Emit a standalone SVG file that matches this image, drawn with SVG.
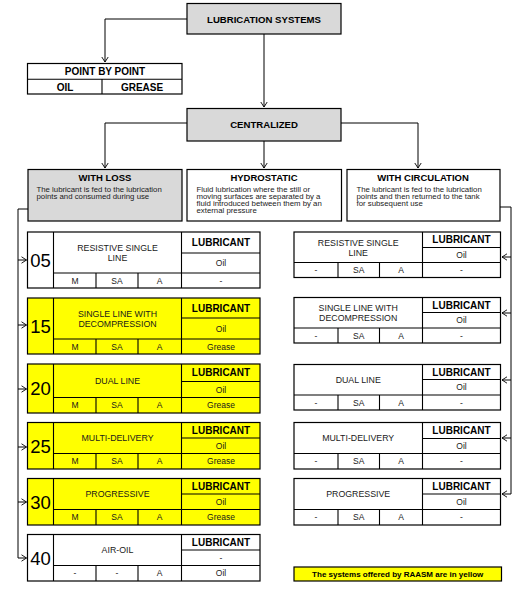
<svg xmlns="http://www.w3.org/2000/svg" width="523" height="598" viewBox="0 0 523 598">
<defs>
<style>
text{font-family:"Liberation Sans",Arial,sans-serif;fill:#1a1a1a}
.b{font-weight:bold;fill:#000}
.c{text-anchor:middle}
.t{font-size:8.8px}
.s{font-size:8.5px}
.lub{font-size:10px;font-weight:bold;fill:#000;text-anchor:middle}
.num{font-size:18.5px;text-anchor:middle;fill:#000}
.d{font-size:7.8px}
.h{font-size:9.5px;font-weight:bold;fill:#000;text-anchor:middle}
.w{fill:#fff;stroke:#000;stroke-width:1.2}
.y{fill:#ffff00;stroke:#000;stroke-width:1.2}
.g{fill:#d9d9d9;stroke:#000;stroke-width:1.2}
.ln{stroke:#000;stroke-width:1.1;fill:none}
.cn{stroke:#000;stroke-width:1;fill:none}
</style>
<marker id="ar" viewBox="0 0 6 8" refX="5.5" refY="4" markerWidth="6" markerHeight="8" markerUnits="userSpaceOnUse" orient="auto">
<path d="M0.5,0.8 L5.5,4 L0.5,7.2" fill="none" stroke="#000" stroke-width="0.9"/>
</marker>
</defs>
<rect width="523" height="598" fill="#fff"/>

<g id="connectors">
<path class="cn" d="M187,19 H105 V62" marker-end="url(#ar)"/>
<path class="cn" d="M264,34 V107" marker-end="url(#ar)"/>
<path class="cn" d="M187,123 H105 V168" marker-end="url(#ar)"/>
<path class="cn" d="M264,141 V168" marker-end="url(#ar)"/>
<path class="cn" d="M341,123 H418 V168" marker-end="url(#ar)"/>
<path class="cn" d="M28,209 H18 V558 H26.5" marker-end="url(#ar)"/>
<path class="cn" d="M18,260 H26.5" marker-end="url(#ar)"/>
<path class="cn" d="M18,325 H26.5" marker-end="url(#ar)"/>
<path class="cn" d="M18,389 H26.5" marker-end="url(#ar)"/>
<path class="cn" d="M18,447 H26.5" marker-end="url(#ar)"/>
<path class="cn" d="M18,502 H26.5" marker-end="url(#ar)"/>
<path class="cn" d="M500,207 H511 V494 H502" marker-end="url(#ar)"/>
<path class="cn" d="M511,257 H502" marker-end="url(#ar)"/>
<path class="cn" d="M511,313 H502" marker-end="url(#ar)"/>
<path class="cn" d="M511,380 H502" marker-end="url(#ar)"/>
<path class="cn" d="M511,438 H502" marker-end="url(#ar)"/>
</g>

<g id="lubrication-systems">
<rect class="g" x="187" y="3.5" width="154" height="30.5"/>
<text class="b c" x="264" y="22.5" font-size="9.6">LUBRICATION SYSTEMS</text>
</g>

<g id="point-by-point">
<rect class="w" x="27.5" y="63.5" width="154.5" height="30.5"/>
<path class="ln" d="M27.5,79.2 H182 M102,79.2 V94"/>
<text class="b c" x="105" y="75" font-size="10">POINT BY POINT</text>
<text class="b c" x="65" y="90.5" font-size="10">OIL</text>
<text class="b c" x="142" y="90.5" font-size="10">GREASE</text>
</g>

<g id="centralized">
<rect class="g" x="187" y="108.5" width="154" height="32.5"/>
<text class="b c" x="264" y="128" font-size="9.6">CENTRALIZED</text>
</g>

<g id="with-loss">
<rect class="g" x="28" y="169.5" width="154" height="51.5"/>
<text class="h" x="105" y="181">WITH LOSS</text>
<text class="d" x="36.5" y="191.8">The lubricant is fed to the lubrication</text>
<text class="d" x="36.5" y="198.8">points and consumed during use</text>
</g>

<g id="hydrostatic">
<rect class="w" x="187" y="169.5" width="154.5" height="51.5"/>
<text class="h" x="264" y="181">HYDROSTATIC</text>
<text class="d" x="196.5" y="191.8">Fluid lubrication where the still or</text>
<text class="d" x="196.5" y="198.8">moving surfaces are separated by a</text>
<text class="d" x="196.5" y="205.8">fluid introduced between them by an</text>
<text class="d" x="196.5" y="212.8">external pressure</text>
</g>

<g id="with-circulation">
<rect class="w" x="347" y="169.5" width="153" height="51.5"/>
<text class="h" x="423" y="181">WITH CIRCULATION</text>
<text class="d" x="356.5" y="191.8">The lubricant is fed to the lubrication</text>
<text class="d" x="356.5" y="198.8">points and then returned to the tank</text>
<text class="d" x="356.5" y="205.8">for subsequent use</text>
</g>

<!-- Left column -->
<g id="l05">
<rect class="w" x="27.5" y="232" width="232.5" height="56"/>
<path class="ln" d="M53.5,232 V288 M181.5,232 V288 M181.5,253 H260 M53.5,273 H260 M96,273 V288 M138,273 V288"/>
<text class="num" x="40.5" y="266.7">05</text>
<text class="t c" x="117.5" y="251">RESISTIVE SINGLE</text>
<text class="t c" x="117.5" y="261">LINE</text>
<text class="lub" x="221" y="246.1">LUBRICANT</text>
<text class="s c" x="221" y="266">Oil</text>
<text class="s c" x="75" y="283.5">M</text>
<text class="s c" x="117" y="283.5">SA</text>
<text class="s c" x="159.7" y="283.5">A</text>
<text class="s c" x="221" y="283.5">-</text>
</g>

<g id="l15">
<rect class="y" x="27.5" y="298" width="232.5" height="56"/>
<path class="ln" d="M53.5,298 V354 M181.5,298 V354 M181.5,318 H260 M53.5,339 H260 M96,339 V354 M138,339 V354"/>
<text class="num" x="40.5" y="332.7">15</text>
<text class="t c" x="117.5" y="317">SINGLE LINE WITH</text>
<text class="t c" x="117.5" y="327">DECOMPRESSION</text>
<text class="lub" x="221" y="311.6">LUBRICANT</text>
<text class="s c" x="221" y="331.5">Oil</text>
<text class="s c" x="75" y="349.5">M</text>
<text class="s c" x="117" y="349.5">SA</text>
<text class="s c" x="159.7" y="349.5">A</text>
<text class="s c" x="221" y="349.5">Grease</text>
</g>

<g id="l20">
<rect class="y" x="27.5" y="364" width="232.5" height="49"/>
<path class="ln" d="M53.5,364 V413 M181.5,364 V413 M181.5,381.5 H260 M53.5,397.5 H260 M96,397.5 V413 M138,397.5 V413"/>
<text class="num" x="40.5" y="395.2">20</text>
<text class="t c" x="117.5" y="384">DUAL LINE</text>
<text class="lub" x="221" y="376.4">LUBRICANT</text>
<text class="s c" x="221" y="392.5">Oil</text>
<text class="s c" x="75" y="408.3">M</text>
<text class="s c" x="117" y="408.3">SA</text>
<text class="s c" x="159.7" y="408.3">A</text>
<text class="s c" x="221" y="408.3">Grease</text>
</g>

<g id="l25">
<rect class="y" x="27.5" y="422.5" width="232.5" height="46.5"/>
<path class="ln" d="M53.5,422.5 V469 M181.5,422.5 V469 M181.5,438 H260 M53.5,453.5 H260 M96,453.5 V469 M138,453.5 V469"/>
<text class="num" x="40.5" y="452.5">25</text>
<text class="t c" x="117.5" y="441.3">MULTI-DELIVERY</text>
<text class="lub" x="221" y="433.9">LUBRICANT</text>
<text class="s c" x="221" y="448.7">Oil</text>
<text class="s c" x="75" y="464.3">M</text>
<text class="s c" x="117" y="464.3">SA</text>
<text class="s c" x="159.7" y="464.3">A</text>
<text class="s c" x="221" y="464.3">Grease</text>
</g>

<g id="l30">
<rect class="y" x="27.5" y="478.5" width="232.5" height="46.5"/>
<path class="ln" d="M53.5,478.5 V525 M181.5,478.5 V525 M181.5,494 H260 M53.5,509.5 H260 M96,509.5 V525 M138,509.5 V525"/>
<text class="num" x="40.5" y="508.5">30</text>
<text class="t c" x="117.5" y="497.3">PROGRESSIVE</text>
<text class="lub" x="221" y="489.9">LUBRICANT</text>
<text class="s c" x="221" y="504.7">Oil</text>
<text class="s c" x="75" y="520.3">M</text>
<text class="s c" x="117" y="520.3">SA</text>
<text class="s c" x="159.7" y="520.3">A</text>
<text class="s c" x="221" y="520.3">Grease</text>
</g>

<g id="l40">
<rect class="w" x="27.5" y="534.5" width="232.5" height="46.5"/>
<path class="ln" d="M53.5,534.5 V581 M181.5,534.5 V581 M181.5,550 H260 M53.5,565.5 H260 M96,565.5 V581 M138,565.5 V581"/>
<text class="num" x="40.5" y="564.5">40</text>
<text class="t c" x="117.5" y="553.3">AIR-OIL</text>
<text class="lub" x="221" y="545.9">LUBRICANT</text>
<text class="s c" x="221" y="560.7">-</text>
<text class="s c" x="75" y="576.3">-</text>
<text class="s c" x="117" y="576.3">-</text>
<text class="s c" x="159.7" y="576.3">A</text>
<text class="s c" x="221" y="576.3">Oil</text>
</g>

<!-- Right column -->
<g id="r-resistive">
<rect class="w" x="294" y="232" width="206.5" height="45.5"/>
<path class="ln" d="M422.5,232 V277.5 M422.5,247.5 H500.5 M294,262.5 H500.5 M338,262.5 V277.5 M379.5,262.5 V277.5"/>
<text class="t c" x="358.2" y="245.5">RESISTIVE SINGLE</text>
<text class="t c" x="358.2" y="255.5">LINE</text>
<text class="lub" x="461.5" y="243.3">LUBRICANT</text>
<text class="s c" x="461.5" y="258">Oil</text>
<text class="s c" x="316" y="273">-</text>
<text class="s c" x="358.7" y="273">SA</text>
<text class="s c" x="401" y="273">A</text>
<text class="s c" x="461.5" y="273">-</text>
</g>

<g id="r-decompression">
<rect class="w" x="294" y="297.5" width="206.5" height="45.5"/>
<path class="ln" d="M422.5,297.5 V343 M422.5,312.5 H500.5 M294,328 H500.5 M338,328 V343 M379.5,328 V343"/>
<text class="t c" x="358.2" y="311.2">SINGLE LINE WITH</text>
<text class="t c" x="358.2" y="321.2">DECOMPRESSION</text>
<text class="lub" x="461.5" y="308.6">LUBRICANT</text>
<text class="s c" x="461.5" y="323.2">Oil</text>
<text class="s c" x="316" y="338.5">-</text>
<text class="s c" x="358.7" y="338.5">SA</text>
<text class="s c" x="401" y="338.5">A</text>
<text class="s c" x="461.5" y="338.5">-</text>
</g>

<g id="r-dual">
<rect class="w" x="294" y="364.5" width="206.5" height="45.5"/>
<path class="ln" d="M422.5,364.5 V410 M422.5,379.5 H500.5 M294,395 H500.5 M338,395 V410 M379.5,395 V410"/>
<text class="t c" x="358.2" y="383">DUAL LINE</text>
<text class="lub" x="461.5" y="375.6">LUBRICANT</text>
<text class="s c" x="461.5" y="390.2">Oil</text>
<text class="s c" x="316" y="405.5">-</text>
<text class="s c" x="358.7" y="405.5">SA</text>
<text class="s c" x="401" y="405.5">A</text>
<text class="s c" x="461.5" y="405.5">-</text>
</g>

<g id="r-multi">
<rect class="w" x="294" y="422.5" width="206.5" height="46.5"/>
<path class="ln" d="M422.5,422.5 V469 M422.5,438.5 H500.5 M294,453.5 H500.5 M338,453.5 V469 M379.5,453.5 V469"/>
<text class="t c" x="358.2" y="441.3">MULTI-DELIVERY</text>
<text class="lub" x="461.5" y="434.1">LUBRICANT</text>
<text class="s c" x="461.5" y="449">Oil</text>
<text class="s c" x="316" y="464.3">-</text>
<text class="s c" x="358.7" y="464.3">SA</text>
<text class="s c" x="401" y="464.3">A</text>
<text class="s c" x="461.5" y="464.3">-</text>
</g>

<g id="r-progressive">
<rect class="w" x="294" y="478.5" width="206.5" height="46.5"/>
<path class="ln" d="M422.5,478.5 V525 M422.5,494 H500.5 M294,509.5 H500.5 M338,509.5 V525 M379.5,509.5 V525"/>
<text class="t c" x="358.2" y="497.3">PROGRESSIVE</text>
<text class="lub" x="461.5" y="489.9">LUBRICANT</text>
<text class="s c" x="461.5" y="504.7">Oil</text>
<text class="s c" x="316" y="520.3">-</text>
<text class="s c" x="358.7" y="520.3">SA</text>
<text class="s c" x="401" y="520.3">A</text>
<text class="s c" x="461.5" y="520.3">-</text>
</g>

<g id="legend">
<rect class="y" x="294" y="567" width="207.5" height="14"/>
<text class="b c" x="397.7" y="577" font-size="8">The systems offered by RAASM are in yellow</text>
</g>
</svg>
